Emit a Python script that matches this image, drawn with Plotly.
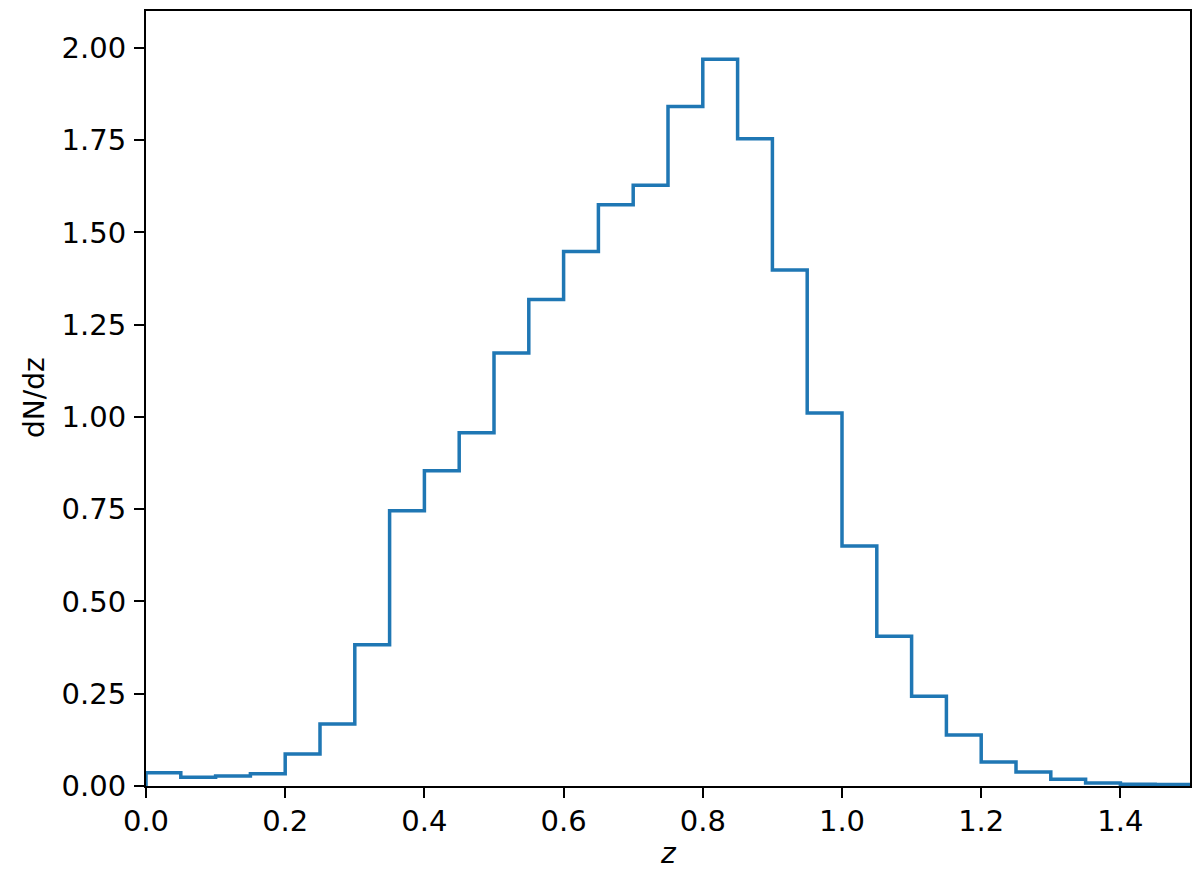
import plotly.graph_objects as go

bin_edges = [round(0.05 * i, 2) for i in range(31)]
dndz = [0.036, 0.024, 0.027, 0.033, 0.087, 0.168, 0.383, 0.746, 0.854, 0.957,
        1.173, 1.318, 1.448, 1.575, 1.628, 1.841, 1.969, 1.754, 1.398, 1.011,
        0.650, 0.406, 0.243, 0.138, 0.065, 0.038, 0.018, 0.008, 0.005, 0.004]
x_ticks = [0.0, 0.2, 0.4, 0.6, 0.8, 1.0, 1.2, 1.4]
y_ticks = [0.0, 0.25, 0.5, 0.75, 1.0, 1.25, 1.5, 1.75, 2.0]

xs = [bin_edges[0]] + bin_edges + [bin_edges[-1]]
ys = [0.0] + dndz + [dndz[-1], 0.0]

fig = go.Figure()
fig.add_trace(go.Scatter(x=xs, y=ys, mode="lines",
                         line=dict(color="#1f77b4", width=3.5, shape="hv"),
                         showlegend=False, hoverinfo="skip"))

font = "DejaVu Sans"
# page has an 8px body margin; compensate so the frame sits at 146..1190 x 9..786
OFF = 8
W, H = 1200 - OFF, 872 - OFF
ml, mt = 146 - OFF, 9 - OFF
mr = W - (1190 - OFF)
mb = H - (786 - OFF)
plot_w = W - ml - mr
plot_h = H - mt - mb


def px_to_paper(xp, yp):
    fx, fy = xp - OFF, yp - OFF
    return (fx - ml) / plot_w, (mt + plot_h - fy) / plot_h


fig.update_layout(
    width=W, height=H,
    margin=dict(l=ml, r=mr, t=mt, b=mb),
    paper_bgcolor="white", plot_bgcolor="white",
    font=dict(family=font, size=29, color="black"),
)
fig.update_xaxes(range=[0, 1.5], tickvals=x_ticks, ticktext=[f"{v:.1f}" for v in x_ticks],
                 showline=True, mirror=True, linecolor="black", linewidth=2.2,
                 ticks="outside", ticklen=10, tickwidth=2.2, tickcolor="black",
                 showgrid=False, zeroline=False, ticklabelstandoff=-2)
fig.update_yaxes(range=[0, 2.1], tickvals=y_ticks, ticktext=[f"{v:.2f}" for v in y_ticks],
                 showline=True, mirror=True, linecolor="black", linewidth=2.2,
                 ticks="outside", ticklen=10, tickwidth=2.2, tickcolor="black",
                 showgrid=False, zeroline=False, ticklabelstandoff=2)

yx, yy = px_to_paper(34, 397)
fig.add_annotation(text="dN/dz", textangle=-90, showarrow=False,
                   xref="paper", yref="paper", x=yx, y=yy,
                   xanchor="center", yanchor="middle",
                   font=dict(family=font, size=28, color="black"))

zx, zy = px_to_paper(668, 854)
fig.add_annotation(text="<i>z</i>", showarrow=False,
                   xref="paper", yref="paper", x=zx, y=zy,
                   xanchor="center", yanchor="middle",
                   font=dict(family=font, size=28, color="black"))

fig.write_html("out.html")
